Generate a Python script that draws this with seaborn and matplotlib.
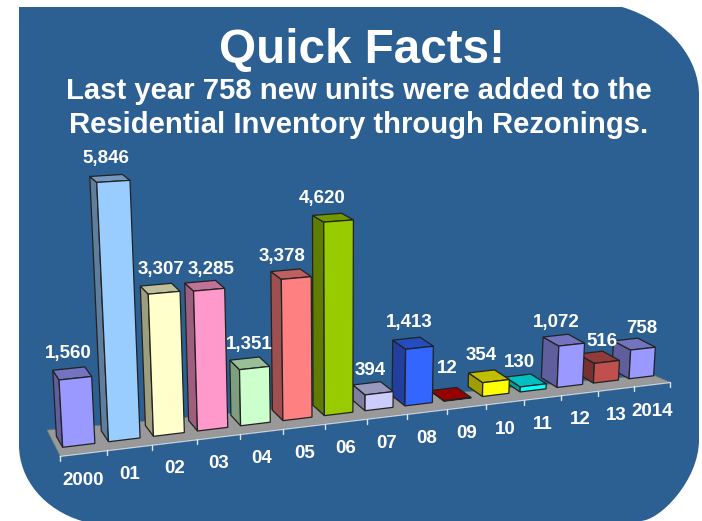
import matplotlib
matplotlib.use("Agg")
import matplotlib.pyplot as plt
from matplotlib.patches import Polygon, PathPatch, Rectangle
from matplotlib.path import Path
from matplotlib.transforms import Transform, IdentityTransform
import matplotlib.colors as mcolors
import numpy as np
import pandas as pd
import seaborn as sns

# ---- data ----
categories = ["2000", "01", "02", "03", "04", "05", "06", "07", "08", "09", "10", "11", "12", "13", "2014"]
units = [1560, 5846, 3307, 3285, 1351, 3378, 4620, 394, 1413, 12, 354, 130, 1072, 516, 758]
bar_colors = ["#9999FF", "#99CCFF", "#FFFFCC", "#FF99CC", "#CCFFCC", "#FF8080", "#99CC00", "#CCCCFF",
              "#3366FF", "#CC0000", "#FFFF00", "#00FFFF", "#9999FF", "#C0504D", "#9999FF"]
title = "Quick Facts!"
subtitle = ["Last year 758 new units were added to the", "Residential Inventory through Rezonings."]

# label nudges relative to the bar top (pixels)
label_dx = [-1, 0, 5, 11, 5, -4, -5, 3, 3, 4, 0, 1, 1, 12, 16]
label_dy = [-15, -17, -15, -12, -14, -14, -16, -13, -16, -21, -16, -13, -13, -11, -11]

BG = "#2C5F92"
W, H = 702, 521
sns.set_theme(style="white")
plt.rcParams['font.family'] = ['Liberation Sans', 'DejaVu Sans']

fig = plt.figure(figsize=(W / 100, H / 100), dpi=100, facecolor="white")
ax = fig.add_axes([0, 0, 1, 1])

# Perspective camera: category position u, value v, depth d -> reference pixels
C, B, E = 0.01036, 46.97, -8.38e-6
VX, VY = 340.0, 5531.0
DX, DY, DT = -270.0, -130.0, 0.019
BAR_W = 0.7


def project(u, v, d=0.0):
    u, v, d = np.asarray(u, float), np.asarray(v, float), np.asarray(d, float)
    w0 = 1 + C * u
    x0 = (62.7 + B * u) / w0
    y0 = 447.3 - 0.121 * (x0 - 62.7)
    f = w0 / (w0 + E * v)
    x = VX + (x0 - VX) * f
    y = VY + (y0 - VY) * f
    t = d * DT
    return x + t * (DX - x), y + t * (DY - y)


def to_display(x, y):
    return np.column_stack([np.atleast_1d(x), H - np.atleast_1d(y)])


class FrontPlane(Transform):
    input_dims = output_dims = 2
    is_affine = False

    def transform_non_affine(self, values):
        values = np.asarray(values, float)
        x, y = project(values[:, 0] + BAR_W / 2, values[:, 1])
        return to_display(x, y)

    def inverted(self):
        raise NotImplementedError


pix = IdentityTransform()

# ---- panel ----
verts = [(19, 7), (622, 7),
         (672, 22), (699, 60), (699, 95),
         (699, 440),
         (699, 480), (660, 521), (640, 521),
         (82, 521),
         (45, 510), (19, 480), (19, 445),
         (19, 7)]
codes = [Path.MOVETO, Path.LINETO,
         Path.CURVE4, Path.CURVE4, Path.CURVE4,
         Path.LINETO,
         Path.CURVE4, Path.CURVE4, Path.CURVE4,
         Path.LINETO,
         Path.CURVE4, Path.CURVE4, Path.CURVE4,
         Path.CLOSEPOLY]
verts = [(x, H - y) for x, y in verts]
fig.patches.append(PathPatch(Path(verts, codes), facecolor=BG, edgecolor="none", transform=pix, zorder=-5))

# ---- bars: drawn by seaborn, then re-projected ----
df = pd.DataFrame({"year": categories, "units": units})
sns.barplot(data=df, x="year", y="units", hue="year", palette=bar_colors, legend=False,
            dodge=False, width=BAR_W, saturation=1, ax=ax, edgecolor="#222222", linewidth=0.9)
ax.axis("off")
front = FrontPlane()


def shade(col, k):
    r, g, b = mcolors.to_rgb(col)
    return (r * k, g * k, b * k)


def face(xs, ys, color, z):
    ax.add_patch(Polygon(to_display(xs, ys), closed=True, facecolor=color, edgecolor="#222222", lw=0.9,
                         transform=pix, zorder=z, clip_on=False))


# floor
fl = [(-0.15, -0.7), (14.81, -0.7), (14.72, 0.1), (-0.12, 1.63)]
fx, fy = project([p[0] for p in fl], 0, [p[1] for p in fl])
ax.add_patch(Polygon(to_display(fx, fy), closed=True, facecolor="#999999", edgecolor="#777777", lw=0.5,
                     transform=pix, zorder=1, clip_on=False))
ax.plot(*to_display(fx[:2], fy[:2] + 0.5).T, color="#C8D0D8", lw=1.0, transform=pix, zorder=1.5, clip_on=False)

for p in [q for q in ax.patches if isinstance(q, Rectangle)]:
    cx = p.get_x() + p.get_width() / 2
    i = int(round(cx))
    v = p.get_height()
    u0, u1 = i, i + p.get_width()
    z = 30 - i
    col = bar_colors[i]
    sx, sy = project([u0, u0, u0, u0], [0, v, v, 0], [0, 0, 1, 1])
    face(sx, sy, shade(col, 0.62), z)
    tx, ty = project([u0, u1, u1, u0], [v, v, v, v], [0, 0, 1, 1])
    face(tx, ty, shade(col, 0.75), z)
    p.set_transform(front)
    p.set_clip_on(False)
    p.set_zorder(z + 0.5)
    bx, by = project((u0 + u1) / 2, v, 1)
    ax.text(*to_display(bx + label_dx[i], by + label_dy[i])[0], f"{int(v):,}", transform=pix, clip_on=False,
            color="white", fontsize=13.5, fontweight="bold", ha="center", va="center", zorder=50)

# ticks and category labels
tick_u = lambda k: k * 0.9973 - 0.15
for i in range(len(categories) + 1):
    tx, ty = project(tick_u(i), 0, -0.7)
    ax.plot(*to_display([tx, tx], [ty, ty + 5]).T, color="#DDE4EA", lw=1.0, transform=pix, zorder=2, clip_on=False)
for i, lab in enumerate(categories):
    tx, ty = project(tick_u(i + 0.5), 0, -0.7)
    ax.text(*to_display(tx, ty + 27)[0], lab, transform=pix, color="white", fontsize=13.5, fontweight="bold",
            ha="center", va="center", clip_on=False, zorder=50)

# titles
ax.text(*to_display(362, 50)[0], title, transform=pix, color="white", fontsize=34.3, fontweight="bold",
        ha="center", va="center", zorder=50)
for txt, y in zip(subtitle, [91, 125]):
    ax.text(*to_display(359, y)[0], txt, transform=pix, color="white", fontsize=21.1, fontweight="bold",
            ha="center", va="center", zorder=50)

fig.savefig("out.png", dpi=100)
